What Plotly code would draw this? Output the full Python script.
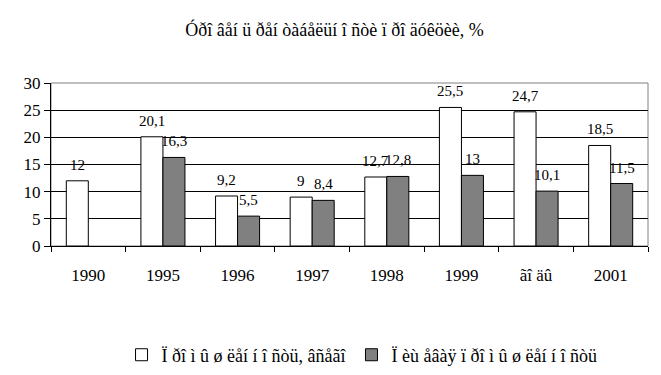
import plotly.graph_objects as go

title_text = "Óðî âåí ü ðåí òàáåëüí î ñòè ï ðî äóêöèè, %"
categories = ["1990", "1995", "1996", "1997", "1998", "1999", "ãî äû", "2001"]
series1_name = "Ï ðî ì û ø ëåí í î ñòü, âñåãî"
series2_name = "Ï èù åâàÿ ï ðî ì û ø ëåí í î ñòü"
series1 = [12, 20.1, 9.2, 9, 12.7, 25.5, 24.7, 18.5]
series2 = [None, 16.3, 5.5, 8.4, 12.8, 13, 10.1, 11.5]

FONT = "'Liberation Serif', 'Times New Roman', serif"

def fmt(v):
    s = ("%g" % v)
    return s.replace(".", ",")

fig = go.Figure()
fig.add_trace(go.Bar(x=categories, y=series1, name=series1_name,
                     marker=dict(color="white", line=dict(color="black", width=1))))
fig.add_trace(go.Bar(x=categories, y=series2, name=series2_name,
                     marker=dict(color="#808080", line=dict(color="black", width=1))))

annotations = []
for i, v in enumerate(series1):
    if v is not None:
        annotations.append(dict(x=i, y=v, xref="x", yref="y", text=fmt(v), showarrow=False,
                                xshift=-11, yshift=16, yanchor="middle",
                                font=dict(family=FONT, size=15, color="black")))
for i, v in enumerate(series2):
    if v is not None:
        annotations.append(dict(x=i, y=v, xref="x", yref="y", text=fmt(v), showarrow=False,
                                xshift=11, yshift=16, yanchor="middle",
                                font=dict(family=FONT, size=15, color="black")))

fig.update_layout(
    width=653, height=367,
    margin=dict(l=43, r=13, t=75, b=129, autoexpand=False),
    paper_bgcolor="white", plot_bgcolor="white",
    barmode="group", bargap=0.41, bargroupgap=0,
    font=dict(family=FONT, size=16, color="black"),
    title=dict(text=title_text, x=0.5, xanchor="center", y=0.94, yanchor="middle",
               font=dict(family=FONT, size=18, color="black")),
    showlegend=True,
    legend=dict(orientation="h", x=0.521, xanchor="center", y=-0.669, yanchor="middle",
                font=dict(family=FONT, size=18, color="black"), traceorder="normal",
                itemwidth=30, tracegroupgap=0),
    annotations=annotations,
    xaxis=dict(type="category", showline=True, linecolor="black", linewidth=1,
               ticks="outside", tickson="boundaries", ticklen=5, tickcolor="black",
               ticklabelstandoff=14, showgrid=False, mirror=False,
               tickfont=dict(family=FONT, size=17)),
    yaxis=dict(range=[0, 30], dtick=5, showline=True, linecolor="black", linewidth=1,
               ticks="outside", ticklen=6, tickcolor="black", showgrid=True,
               gridcolor="black", gridwidth=1, zeroline=False,
               tickfont=dict(family=FONT, size=17)),
    shapes=[dict(type="rect", xref="paper", yref="paper", x0=0, x1=1, y0=0, y1=1,
                 line=dict(color="#808080", width=1), layer="below")],
)

fig.write_html("out.html")
